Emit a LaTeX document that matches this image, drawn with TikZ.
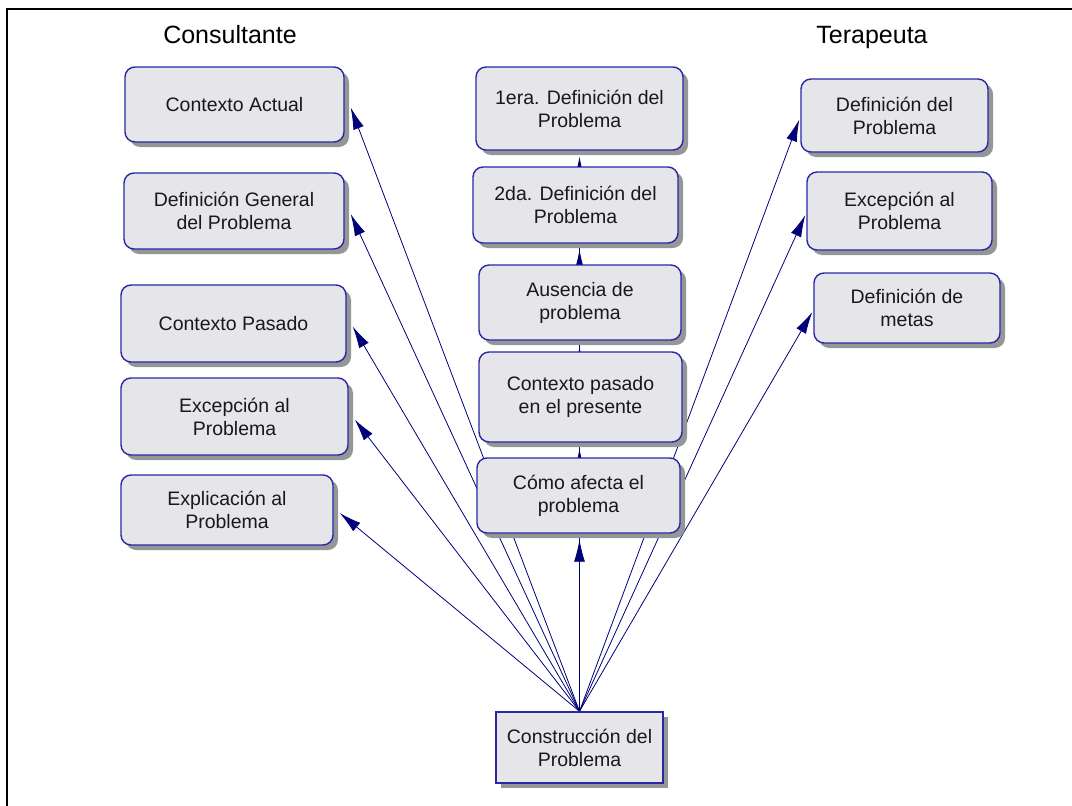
\documentclass[tikz,border=0pt]{standalone}
\usepackage{fontspec}
\setmainfont{Liberation Sans}
\usetikzlibrary{arrows.meta,shadows}
\pgfdeclarelayer{background}
\pgfsetlayers{background,main}
\definecolor{boxfill}{RGB}{229,229,234}
\definecolor{boxline}{RGB}{40,40,165}
\definecolor{arrowc}{RGB}{0,0,120}
\definecolor{shadowc}{RGB}{150,150,150}

\begin{document}
\begin{tikzpicture}[x=1pt,y=-1pt,
  stepbox/.style={draw=boxline, line width=1.4pt, fill=boxfill, rounded corners=10pt,
    align=center, font=\fontsize{19.5}{23}\selectfont, text=black!90, inner sep=0pt,
    drop shadow={shadow xshift=5pt, shadow yshift=-5pt, fill=shadowc, opacity=1}},
  rootbox/.style={stepbox, rounded corners=0pt},
  link/.style={draw=arrowc, line width=0.8pt, -{Latex[length=22pt,width=11pt]}},
  head/.style={font=\fontsize{25}{30}\selectfont, anchor=base}]

\useasboundingbox (0,0) rectangle (1072,806);

% outer frame
\draw[line width=1.5pt] (7,9) rectangle (1090,830);

% column headings
\node[head] (hcons) at (230,43) {Consultante};
\node[head] (hter)  at (872,43) {Terapeuta};

% consultant column
\node[stepbox, minimum width=219pt, minimum height=75pt] (ca) at (234.5,104.5) {Contexto Actual};
\node[stepbox, minimum width=220pt, minimum height=76pt] (dg) at (234,211) {Definición General\\del Problema};
\node[stepbox, minimum width=225pt, minimum height=77pt] (cp) at (233.5,323.5) {Contexto Pasado};
\node[stepbox, minimum width=227pt, minimum height=77pt] (ep) at (234.5,416.5) {Excepción al\\Problema};
\node[stepbox, minimum width=212pt, minimum height=70pt] (xp) at (227,510) {Explicación al\\Problema};

% middle column
\node[stepbox, minimum width=207pt, minimum height=83pt] (d1) at (579.5,108.5) {1era. Definición del\\Problema};
\node[stepbox, minimum width=205pt, minimum height=76pt] (d2) at (575.5,205) {2da. Definición del\\Problema};
\node[stepbox, minimum width=202pt, minimum height=75pt] (au) at (580,302.5) {Ausencia de\\problema};
\node[stepbox, minimum width=203pt, minimum height=90pt] (pp) at (580.5,397) {Contexto pasado\\en el presente};
\node[stepbox, minimum width=203pt, minimum height=75pt] (cm) at (578.5,495.5) {Cómo afecta el\\problema};
\node[rootbox, minimum width=167pt, minimum height=71pt] (con) at (579.5,747.5) {Construcción del\\Problema};

% therapist column
\node[stepbox, minimum width=187pt, minimum height=73pt] (dp) at (894.5,115.5) {Definición del\\Problema};
\node[stepbox, minimum width=185pt, minimum height=78pt] (ex) at (899.5,211) {Excepción al\\Problema};
\node[stepbox, minimum width=186pt, minimum height=70pt] (dm) at (907,308) {Definición de\\metas};

% connectors, all leaving the top of the root box
\begin{pgfonlayer}{background}
  \foreach \t in {ca,dg,cp,ep,xp}
    \draw[link] (con.north) -- ([xshift=6pt,yshift=-3pt]\t.east);
  \foreach \t in {d1,d2,au,pp,cm}
    \draw[link] (con.north) -- ([yshift=-6pt]con.north |- \t.south);
  \foreach \t in {dp,ex,dm}
    \draw[link] (con.north) -- ([xshift=-1pt,yshift=-4pt]\t.west);
\end{pgfonlayer}

\end{tikzpicture}
\end{document}
